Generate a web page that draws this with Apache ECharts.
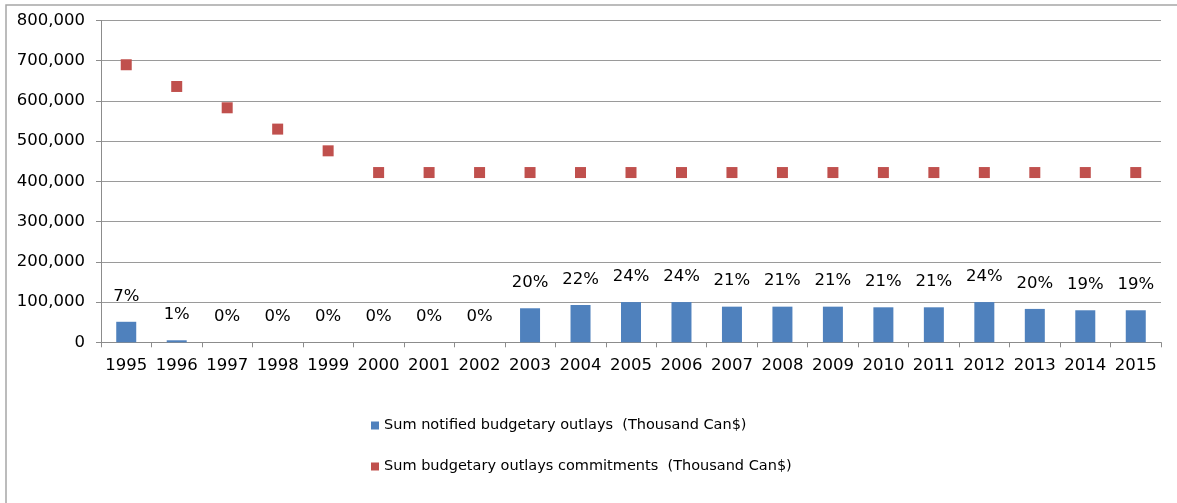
<!DOCTYPE html>
<html>
<head>
<meta charset="UTF-8">
<style>
	html, body { margin: 0; padding: 0; background: #fff; }
	#main { width: 1177px; height: 503px; }
</style>
</head>
<body>
	<div id="main"></div>
</body>
<script src="https://cdn.jsdelivr.net/npm/echarts@6/dist/echarts.min.js"></script>
<script type="text/javascript">
// categories and values
var years = ['1995','1996','1997','1998','1999','2000','2001','2002','2003','2004','2005',
	'2006','2007','2008','2009','2010','2011','2012','2013','2014','2015'];
var outlays = [51000, 5000, 0, 0, 0, 0, 0, 0, 84600, 92800, 100000,
	100000, 88600, 88600, 88600, 87000, 87000, 100000, 83000, 79600, 79600];
var commitments = [690000, 636000, 583000, 530000, 476000, 422000, 422000, 422000, 422000, 422000, 422000,
	422000, 422000, 422000, 422000, 422000, 422000, 422000, 422000, 422000, 422000];
var pctLabels = ['7%','1%','0%','0%','0%','0%','0%','0%','20%','22%','24%',
	'24%','21%','21%','21%','21%','21%','24%','20%','19%','19%'];
var outlaysName = 'Sum notified budgetary outlays  (Thousand Can$)';
var commitName = 'Sum budgetary outlays commitments  (Thousand Can$)';

var font = 'DejaVu Sans';

function withCommas(v) {
	return String(v).replace(/\B(?=(\d{3})+(?!\d))/g, ',');
}

var myChart = echarts.init(document.getElementById('main'));

var option = {
	animation: false,
	textStyle: { fontFamily: font },
	graphic: [{
		// outer chart border
		type: 'rect',
		shape: { x: 6, y: 5, width: 1300, height: 700 },
		style: { fill: 'none', stroke: '#a6a6a6', lineWidth: 1.5 },
		silent: true
	}],
	grid: { left: 101, right: 16, top: 20.5, bottom: 160.7 },
	legend: {
		orient: 'vertical',
		left: 366,
		top: 413,
		itemWidth: 8,
		itemHeight: 8,
		itemGap: 26,
		icon: 'rect',
		textStyle: { fontFamily: font, fontSize: 14.5, color: '#000' },
		data: [outlaysName, commitName]
	},
	xAxis: {
		type: 'category',
		data: years,
		boundaryGap: true,
		axisLine: { lineStyle: { color: '#8c8c8c', width: 1 } },
		axisTick: { show: true, length: 5, alignWithLabel: false, lineStyle: { color: '#8c8c8c' } },
		axisLabel: { color: '#000', fontSize: 16.5, fontFamily: font, margin: 15, interval: 0 }
	},
	yAxis: {
		type: 'value',
		min: 0,
		max: 800000,
		interval: 100000,
		axisLine: { show: true, lineStyle: { color: '#8c8c8c', width: 1 } },
		axisTick: { show: true, length: 5, lineStyle: { color: '#8c8c8c' } },
		splitLine: { lineStyle: { color: '#9a9a9a', width: 1 } },
		axisLabel: {
			color: '#000', fontSize: 16.5, fontFamily: font, margin: 16,
			formatter: function (v) { return withCommas(v); }
		}
	},
	series: [{
		name: outlaysName,
		type: 'bar',
		data: outlays,
		barWidth: 20,
		itemStyle: { color: '#4f81bd' },
		label: {
			show: true,
			position: 'top',
			distance: 17,
			color: '#000',
			fontSize: 16.5,
			fontFamily: font,
			formatter: function (p) { return pctLabels[p.dataIndex]; }
		}
	}, {
		name: commitName,
		type: 'scatter',
		data: commitments,
		symbol: 'rect',
		symbolSize: 11,
		itemStyle: { color: '#c0504d', opacity: 1 }
	}]
};

myChart.setOption(option);
</script>
</html>
